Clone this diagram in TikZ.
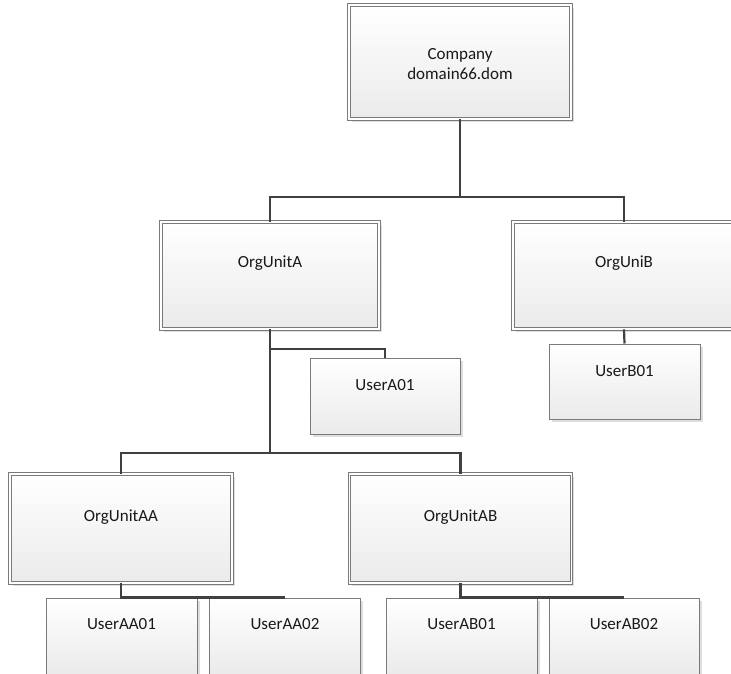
\documentclass[tikz,border=0pt]{standalone}
\usepackage{fontspec}
\setmainfont{Carlito}
\usetikzlibrary{shadows}
\definecolor{linkgray}{HTML}{404040}
\definecolor{rimgray}{HTML}{7A7A7A}
\begin{document}
\begin{tikzpicture}[x=1pt,y=-1pt,
  boxbase/.style={rectangle, inner sep=0pt, top color=white, bottom color=black!8,
    drop shadow={shadow xshift=2.5pt, shadow yshift=-2.5pt, fill=black!13, opacity=1}},
  unitbox/.style={boxbase, draw=rimgray, line width=0.9pt, double=white,
    double distance=1.6pt, minimum width=222pt, minimum height=109pt},
  userbox/.style={boxbase, draw=rimgray, line width=1pt,
    minimum width=151pt, minimum height=76pt},
  lbl/.style={font=\fontsize{17}{20}\selectfont, text=black!90, align=center, inner sep=0pt},
  link/.style={draw=linkgray, line width=2.2pt}
]
\fill[white] (0,0) rectangle (731,673);
\useasboundingbox (0,0) rectangle (731,673);
\clip (0,0) rectangle (731,673);

% organisational units
\node[unitbox, minimum height=114pt] (company) at (460,62) {};
\node[unitbox, minimum width=218pt, minimum height=107pt] (ouA) at (270,275.5) {};
\node[unitbox, minimum height=107pt] (ouB) at (624,275.5) {};
\node[unitbox] (ouAA) at (121,528.5) {};
\node[unitbox] (ouAB) at (460.5,528.5) {};

% users
\node[userbox, minimum width=150pt] (uA01) at (385,396) {};
\node[userbox, minimum height=75pt] (uB01) at (624.5,381.5) {};
\node[userbox] (uAA01) at (121.5,636) {};
\node[userbox] (uAA02) at (285,636) {};
\node[userbox] (uAB01) at (461.5,636) {};
\node[userbox, minimum width=150pt] (uAB02) at (624,636) {};

% labels
\node[lbl] (tCompany) at ([yshift=-2pt]company.center) {Company\\domain66.dom};
\node[lbl] (tA) at ([yshift=12pt]ouA.center) {OrgUnitA};
\node[lbl] (tB) at ([yshift=12pt]ouB.center) {OrgUniB};
\node[lbl] (tAA) at ([yshift=11pt]ouAA.center) {OrgUnitAA};
\node[lbl] (tAB) at ([yshift=11pt]ouAB.center) {OrgUnitAB};
\node[lbl] (tA01) at ([yshift=11pt]uA01.center) {UserA01};
\node[lbl] (tB01) at ([yshift=10pt]uB01.center) {UserB01};
\node[lbl] (tAA01) at ([yshift=12pt]uAA01.center) {UserAA01};
\node[lbl] (tAA02) at ([yshift=12pt]uAA02.center) {UserAA02};
\node[lbl] (tAB01) at ([yshift=12pt]uAB01.center) {UserAB01};
\node[lbl] (tAB02) at ([yshift=12pt]uAB02.center) {UserAB02};

% connectors
\draw[link] (company.south) -- (company.south |- 0,197);
\draw[link] (ouA.north) |- (ouB.north |- 0,197) -- (ouB.north);
\draw[link] (ouB.south) -- (uB01.north);
\draw[link] (ouA.south) -- (ouA.south |- 0,453);
\draw[link] (ouA.south |- 0,349) -| (uA01.north);
\draw[link] (ouAA.north) |- (ouAB.north |- 0,453) -- (ouAB.north);
\draw[link] (ouAA.south) |- (uAA02.north);
\draw[link] (ouAB.south) |- (uAB02.north);
\end{tikzpicture}
\end{document}
